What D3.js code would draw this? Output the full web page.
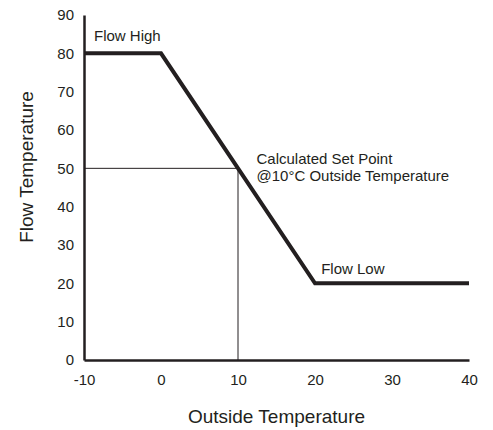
<!DOCTYPE html>
<html>
<head>
<meta charset="utf-8">
<script src="https://d3js.org/d3.v7.min.js"></script>
<style>
  body { margin: 0; background: #fff; }
  text { font-family: "Liberation Sans", Arial, sans-serif; fill: #231f20; }
</style>
</head>
<body>
<div id="chart"></div>
<script>
var outsideTemp = [-10, 0, 20, 40];
var flowTemp = [80, 80, 20, 20];
var xTicks = [-10, 0, 10, 20, 30, 40];
var yTicks = [0, 10, 20, 30, 40, 50, 60, 70, 80, 90];
var setPointX = 10;
var setPointY = 50;

var svgWidth = 493;
var svgHeight = 430;
var margin = { top: 15, right: 24, bottom: 70, left: 84 };
var width = svgWidth - margin.left - margin.right;
var height = svgHeight - margin.top - margin.bottom;
var ink = "#231f20";

var svg = d3.select("#chart")
  .append("svg")
  .attr("width", svgWidth)
  .attr("height", svgHeight);

var chartGroup = svg.append("g")
  .attr("transform", `translate(${margin.left}, ${margin.top})`);

var x = d3.scaleLinear().domain([-10, 40]).range([0, width]);
var y = d3.scaleLinear().domain([0, 90]).range([height, 0]);

// axes without tick marks, plain hyphen for negatives
var xAxis = d3.axisBottom(x).tickValues(xTicks).tickSize(0).tickPadding(14)
  .tickFormat(d => String(d));
var yAxis = d3.axisLeft(y).tickValues(yTicks).tickSize(0).tickPadding(10)
  .tickFormat(d => String(d));

var gx = chartGroup.append("g")
  .attr("transform", `translate(0, ${height})`)
  .call(xAxis);
var gy = chartGroup.append("g").call(yAxis);

[gx, gy].forEach(function(g) {
  g.attr("font-size", 15).attr("font-family", null);
  g.select(".domain").attr("stroke", ink).attr("stroke-width", 2.5);
  g.selectAll("text").attr("fill", ink);
});

// set point guide lines
chartGroup.append("line")
  .attr("x1", x(-10)).attr("x2", x(setPointX))
  .attr("y1", y(setPointY)).attr("y2", y(setPointY))
  .attr("stroke", ink).attr("stroke-width", 1);
chartGroup.append("line")
  .attr("x1", x(setPointX)).attr("x2", x(setPointX))
  .attr("y1", y(setPointY)).attr("y2", y(0))
  .attr("stroke", ink).attr("stroke-width", 1);

// heating curve
var pts = outsideTemp.map((d, i) => [d, flowTemp[i]]);
chartGroup.append("path")
  .datum(pts)
  .attr("fill", "none")
  .attr("stroke", ink)
  .attr("stroke-width", 4)
  .attr("stroke-linejoin", "miter")
  .attr("d", d3.line().x(d => x(d[0])).y(d => y(d[1])));

// annotations
chartGroup.append("text")
  .attr("x", x(-8.7)).attr("y", y(80) - 12)
  .attr("font-size", 15)
  .text("Flow High");

chartGroup.append("text")
  .attr("x", x(20.8)).attr("y", y(20) - 9)
  .attr("font-size", 15)
  .text("Flow Low");

var note = chartGroup.append("text")
  .attr("x", x(12.4)).attr("y", y(50) - 4)
  .attr("font-size", 15);
note.append("tspan").attr("x", x(12.4)).text("Calculated Set Point");
note.append("tspan").attr("x", x(12.4)).attr("dy", 16.7).text("@10°C Outside Temperature");

// axis titles
svg.append("text")
  .attr("x", margin.left + x(15)).attr("y", 423)
  .attr("text-anchor", "middle")
  .attr("font-size", 19)
  .text("Outside Temperature");

svg.append("text")
  .attr("transform", "translate(33, 167) rotate(-90)")
  .attr("text-anchor", "middle")
  .attr("font-size", 19)
  .text("Flow Temperature");
</script>
</body>
</html>
